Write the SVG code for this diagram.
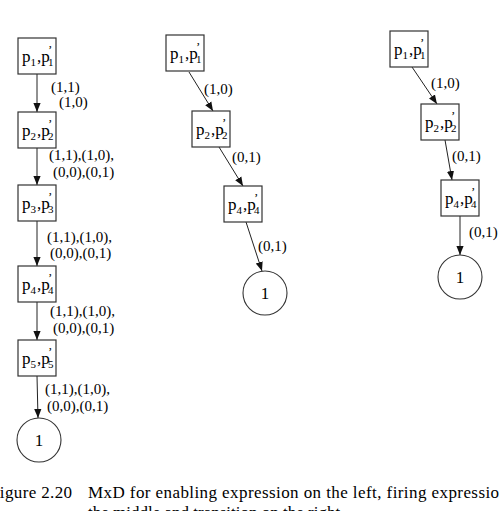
<svg xmlns="http://www.w3.org/2000/svg" width="499" height="511" viewBox="0 0 499 511" font-family="'Liberation Serif', 'Times New Roman', serif">
  <style>
    text, tspan { font-family: 'Liberation Serif', 'Times New Roman', serif; fill: #000; }
    .box { fill: #fff; stroke: #333; stroke-width: 1.2; }
    .term { fill: #fff; stroke: #333; stroke-width: 1.1; }
    .edge { stroke: #222; stroke-width: 1; fill: none; marker-end: url(#arrow); }
    .nm { font-size: 17px; }
    .s { font-size: 11px; }
    .pr { font-size: 13px; }
    .lbl { font-size: 15px; }
    .cap { font-size: 17px; }
  </style>
  <defs>
    <marker id="arrow" viewBox="0 0 10 10" refX="10" refY="5" markerWidth="9" markerHeight="9" markerUnits="userSpaceOnUse" orient="auto">
      <path d="M0,1 L10,5 L0,9 z" fill="#111"/>
    </marker>
    <rect id="cell" width="38" height="36" class="box"/>
  </defs>

  <!-- connectors -->
  <g id="connectors">
    <!-- left chain -->
    <line class="edge" x1="37" y1="74" x2="37" y2="112"/>
    <line class="edge" x1="37" y1="148" x2="37" y2="185"/>
    <line class="edge" x1="37" y1="221" x2="37" y2="266"/>
    <line class="edge" x1="37" y1="302" x2="37" y2="340"/>
    <line class="edge" x1="37" y1="376" x2="38" y2="418"/>
    <!-- middle chain -->
    <line class="edge" x1="189" y1="72" x2="213" y2="111"/>
    <line class="edge" x1="219" y1="147" x2="243" y2="186"/>
    <line class="edge" x1="246" y1="222" x2="262" y2="271"/>
    <!-- right chain -->
    <line class="edge" x1="412" y1="67" x2="437" y2="104"/>
    <line class="edge" x1="445" y1="140" x2="452" y2="180"/>
    <line class="edge" x1="460" y1="216" x2="460" y2="255"/>
  </g>

  <!-- edge labels -->
  <g id="edge-labels">
    <text class="lbl" x="51" y="92">(1,1)</text>
    <text class="lbl" x="59" y="107">(1,0)</text>
    <text class="lbl" x="49" y="160">(1,1),(1,0),</text>
    <text class="lbl" x="53" y="177">(0,0),(0,1)</text>
    <text class="lbl" x="47" y="242">(1,1),(1,0),</text>
    <text class="lbl" x="50" y="258">(0,0),(0,1)</text>
    <text class="lbl" x="50" y="316">(1,1),(1,0),</text>
    <text class="lbl" x="53" y="333">(0,0),(0,1)</text>
    <text class="lbl" x="45" y="394">(1,1),(1,0),</text>
    <text class="lbl" x="47" y="411">(0,0),(0,1)</text>

    <text class="lbl" x="204" y="94">(1,0)</text>
    <text class="lbl" x="232" y="162">(0,1)</text>
    <text class="lbl" x="258" y="251">(0,1)</text>

    <text class="lbl" x="431" y="88">(1,0)</text>
    <text class="lbl" x="452" y="161">(0,1)</text>
    <text class="lbl" x="469" y="237">(0,1)</text>
  </g>

  <!-- left column -->
  <g id="L1" transform="translate(18,38)">
    <use href="#cell"/>
    <text class="nm"><tspan x="4" y="24">p</tspan><tspan class="s" x="12.5" y="28">1</tspan><tspan x="19" y="24">,p</tspan><tspan class="pr" x="30" y="16">’</tspan><tspan class="s" x="30" y="28">1</tspan></text>
  </g>
  <g id="L2" transform="translate(18,112)">
    <use href="#cell"/>
    <text class="nm"><tspan x="4" y="24">p</tspan><tspan class="s" x="12.5" y="28">2</tspan><tspan x="19" y="24">,p</tspan><tspan class="pr" x="30" y="16">’</tspan><tspan class="s" x="30" y="28">2</tspan></text>
  </g>
  <g id="L3" transform="translate(18,185)">
    <use href="#cell"/>
    <text class="nm"><tspan x="4" y="24">p</tspan><tspan class="s" x="12.5" y="28">3</tspan><tspan x="19" y="24">,p</tspan><tspan class="pr" x="30" y="16">’</tspan><tspan class="s" x="30" y="28">3</tspan></text>
  </g>
  <g id="L4" transform="translate(18,266)">
    <use href="#cell"/>
    <text class="nm"><tspan x="4" y="24">p</tspan><tspan class="s" x="12.5" y="28">4</tspan><tspan x="19" y="24">,p</tspan><tspan class="pr" x="30" y="16">’</tspan><tspan class="s" x="30" y="28">4</tspan></text>
  </g>
  <g id="L5" transform="translate(18,340)">
    <use href="#cell"/>
    <text class="nm"><tspan x="4" y="24">p</tspan><tspan class="s" x="12.5" y="28">5</tspan><tspan x="19" y="24">,p</tspan><tspan class="pr" x="30" y="16">’</tspan><tspan class="s" x="30" y="28">5</tspan></text>
  </g>
  <g id="L-one">
    <circle class="term" cx="39" cy="440" r="22"/>
    <text class="nm" x="39" y="446" text-anchor="middle">1</text>
  </g>

  <!-- middle column -->
  <g id="M1" transform="translate(166,35)">
    <use href="#cell"/>
    <text class="nm"><tspan x="4" y="24">p</tspan><tspan class="s" x="12.5" y="28">1</tspan><tspan x="19" y="24">,p</tspan><tspan class="pr" x="30" y="16">’</tspan><tspan class="s" x="30" y="28">1</tspan></text>
  </g>
  <g id="M2" transform="translate(192,111)">
    <use href="#cell"/>
    <text class="nm"><tspan x="4" y="24">p</tspan><tspan class="s" x="12.5" y="28">2</tspan><tspan x="19" y="24">,p</tspan><tspan class="pr" x="30" y="16">’</tspan><tspan class="s" x="30" y="28">2</tspan></text>
  </g>
  <g id="M4" transform="translate(224,186)">
    <use href="#cell"/>
    <text class="nm"><tspan x="4" y="24">p</tspan><tspan class="s" x="12.5" y="28">4</tspan><tspan x="19" y="24">,p</tspan><tspan class="pr" x="30" y="16">’</tspan><tspan class="s" x="30" y="28">4</tspan></text>
  </g>
  <g id="M-one">
    <circle class="term" cx="265" cy="293" r="22"/>
    <text class="nm" x="265" y="299" text-anchor="middle">1</text>
  </g>

  <!-- right column -->
  <g id="R1" transform="translate(390,31)">
    <use href="#cell"/>
    <text class="nm"><tspan x="4" y="24">p</tspan><tspan class="s" x="12.5" y="28">1</tspan><tspan x="19" y="24">,p</tspan><tspan class="pr" x="30" y="16">’</tspan><tspan class="s" x="30" y="28">1</tspan></text>
  </g>
  <g id="R2" transform="translate(421,104)">
    <use href="#cell"/>
    <text class="nm"><tspan x="4" y="24">p</tspan><tspan class="s" x="12.5" y="28">2</tspan><tspan x="19" y="24">,p</tspan><tspan class="pr" x="30" y="16">’</tspan><tspan class="s" x="30" y="28">2</tspan></text>
  </g>
  <g id="R4" transform="translate(441,180)">
    <use href="#cell"/>
    <text class="nm"><tspan x="4" y="24">p</tspan><tspan class="s" x="12.5" y="28">4</tspan><tspan x="19" y="24">,p</tspan><tspan class="pr" x="30" y="16">’</tspan><tspan class="s" x="30" y="28">4</tspan></text>
  </g>
  <g id="R-one">
    <circle class="term" cx="460" cy="277" r="22"/>
    <text class="nm" x="460" y="283" text-anchor="middle">1</text>
  </g>

  <!-- caption -->
  <g id="caption">
    <text class="cap" x="-10" y="498" textLength="82" lengthAdjust="spacing">Figure 2.20</text>
    <text class="cap" x="88" y="498" textLength="420" lengthAdjust="spacing">MxD for enabling expression on the left, firing expression</text>
    <text class="cap" x="88" y="518">the middle and transition on the right.</text>
  </g>
</svg>
